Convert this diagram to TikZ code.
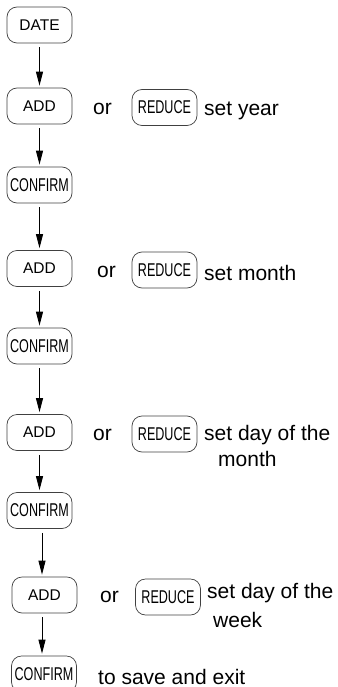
\documentclass[tikz,border=0pt]{standalone}
\usepackage{fontspec}
\usepackage{graphicx}
\setmainfont{Liberation Sans}
\usetikzlibrary{arrows.meta}
\newcommand\narrowtxt[1]{\scalebox{0.68}[1]{\fontsize{18.5}{19}\selectfont #1}}
\begin{document}
\begin{tikzpicture}[x=1pt,y=-1pt,
  btn/.style={draw=black!75, line width=0.7pt, rounded corners=10pt,
    minimum width=65pt, minimum height=36pt, inner sep=0pt,
    font=\fontsize{15.5}{16}\selectfont},
  arr/.style={-{Triangle[length=14pt,width=7pt]}, line width=0.9pt,
    shorten <=4pt, shorten >=2pt},
  lbl/.style={anchor=base west, inner sep=0pt, font=\fontsize{21}{25}\selectfont}]
\useasboundingbox (0,0) rectangle (337,687);
\clip (0,0) rectangle (337,687);
% buttons
\node[btn] (date) at (39.5,25) {DATE};
\node[btn] (add1) at (39.5,106) {ADD};
\node[btn] (red1) at (164.5,107.5) {\narrowtxt{REDUCE}};
\node[btn] (conf1) at (39.5,185) {\narrowtxt{CONFIRM}};
\node[btn] (add2) at (39.5,268.5) {ADD};
\node[btn] (red2) at (164.5,270) {\narrowtxt{REDUCE}};
\node[btn] (conf2) at (39.5,346) {\narrowtxt{CONFIRM}};
\node[btn] (add3) at (39.5,432.5) {ADD};
\node[btn] (red3) at (164.5,434) {\narrowtxt{REDUCE}};
\node[btn] (conf3) at (39.5,510.5) {\narrowtxt{CONFIRM}};
\node[btn] (add4) at (44.5,595) {ADD};
\node[btn] (red4) at (168,597) {\narrowtxt{REDUCE}};
\node[btn] (conf4) at (44,674) {\narrowtxt{CONFIRM}};
% labels
\node[lbl] (or1) at (93,115) {or};
\node[lbl] (t1) at (204,116) {set year};
\node[lbl] (or2) at (97,277) {or};
\node[lbl] (t2) at (204,280) {set month};
\node[lbl] (or3) at (93,440) {or};
\node[lbl] (t3) at (204,440) {set day of the};
\node[lbl] (t3b) at (218,466) {month};
\node[lbl] (or4) at (100,602) {or};
\node[lbl] (t4) at (207,598) {set day of the};
\node[lbl] (t4b) at (213,627) {week};
\node[lbl] (t5) at (98,684) {to save and exit};
% arrows
\coordinate (x42) at (42,0);
\draw[arr] (date) -- (add1);
\draw[arr] (add1) -- (conf1);
\draw[arr] (conf1) -- (add2);
\draw[arr] (add2) -- (conf2);
\draw[arr] (conf2) -- (add3);
\draw[arr] (add3) -- (conf3);
\draw[arr] (conf3.south -| x42) -- (add4.north -| x42);
\draw[arr] (add4.south -| x42) -- (conf4.north -| x42);
\end{tikzpicture}
\end{document}
